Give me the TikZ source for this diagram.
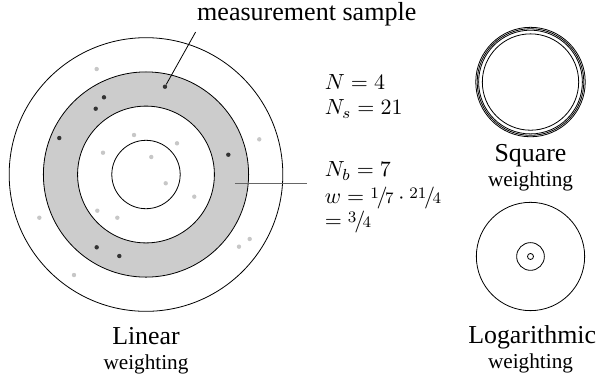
\documentclass[tikz,border=0pt]{standalone}
\usepackage[no-math]{fontspec}
\setmainfont{Liberation Serif}
\usepackage{tikz}
\usetikzlibrary{positioning}
\newcommand{\slfrac}[2]{\raisebox{0.45ex}{$\scriptstyle #1$}\kern-0.1em/\kern-0.12em{\scriptstyle #2}}

\begin{document}
\begin{tikzpicture}[
  x=1cm,
  y=1cm,
  ring/.style={draw=black,line width=0.4pt},
  darkdot/.style={circle,fill=black!80,inner sep=0pt,minimum size=2.2pt},
  greydot/.style={circle,fill=black!22,inner sep=0pt,minimum size=2.2pt},
  title/.style={font=\fontsize{12.9}{15}\selectfont,anchor=base,inner sep=0pt},
  subtitle/.style={font=\fontsize{10.6}{12}\selectfont,anchor=base,inner sep=0pt},
  eq/.style={font=\fontsize{10.95}{13}\selectfont,anchor=base west,inner sep=0pt},
  pointer/.style={draw=black,line width=0.4pt},
  marker/.style={draw=black!60,line width=0.7pt}
]
\useasboundingbox (-2.561,-3.552) rectangle (7.894,3.061);

% Linear weighting: four rings, the third one is the measured band.
\coordinate (lincenter) at (0,0);
\fill[black!20,even odd rule] (lincenter) circle[radius=1.8] (lincenter) circle[radius=1.2];
\foreach \r in {0.6,1.2,1.8,2.4}
  \draw[ring] (lincenter) circle[radius=\r];

% Samples inside and outside the band.
\foreach \x/\y [count=\i] in {-0.865/1.850,1.987/0.617,-0.210/0.693,0.544/0.547,
    -0.754/0.382,0.093/0.307,0.346/-0.154,0.847/-0.389,-1.871/-0.758,
    -0.854/-0.635,-0.503/-0.758,1.819/-1.131,1.631/-1.266,-1.263/-1.763}
  \node[greydot] (g\i) at (\x,\y) {};
\foreach \x/\y [count=\i] in {-0.737/1.354,-0.882/1.154,-1.521/0.640,
    1.444/0.347,-0.865/-1.277,-0.468/-1.430}
  \node[darkdot] (d\i) at (\x,\y) {};
\node[darkdot] (sample) at (0.333,1.540) {};

\node[font=\fontsize{13}{15}\selectfont,anchor=base west,inner xsep=0.6pt,inner ysep=2.7pt]
  (samplelabel) at (0.870,2.698) {measurement sample};
\draw[pointer] (sample) -- (samplelabel.south west);

\coordinate (band) at (1.561,-0.154);
\coordinate (bandend) at (2.829,-0.154);
\draw[marker] (band) -- (bandend);

% Counts and weight.
\node[eq] (nall) at (3.130,1.490) {$N=4$};
\node[eq] (nsum) at (3.130,1.044) {$N_s=21$};
\node[eq] (nband) at (3.130,-0.039) {$N_b=7$};
\node[eq] (wone) at (3.130,-0.500) {$w=\slfrac{1}{7}\cdot\slfrac{21}{4}$};
\node[eq] (wtwo) at (3.130,-0.921) {$=\slfrac{3}{4}$};

\node[title] (lin) at (0,-2.975) {Linear};
\node[subtitle] (linw) at (0,-3.420) {weighting};

% Square weighting.
\coordinate (sqcenter) at (6.745,1.622);
\foreach \r in {0.96,0.935,0.91,0.845}
  \draw[ring] (sqcenter) circle[radius=\r];
\node[title] (sq) at (6.745,0.225) {Square};
\node[subtitle] (sqw) at (6.745,-0.214) {weighting};

% Logarithmic weighting.
\coordinate (logcenter) at (6.745,-1.438);
\foreach \r in {0.95,0.243,0.053}
  \draw[ring] (logcenter) circle[radius=\r];
\node[title] (lg) at (6.775,-2.960) {Logarithmic};
\node[subtitle] (lgw) at (6.745,-3.400) {weighting};

\end{tikzpicture}
\end{document}
